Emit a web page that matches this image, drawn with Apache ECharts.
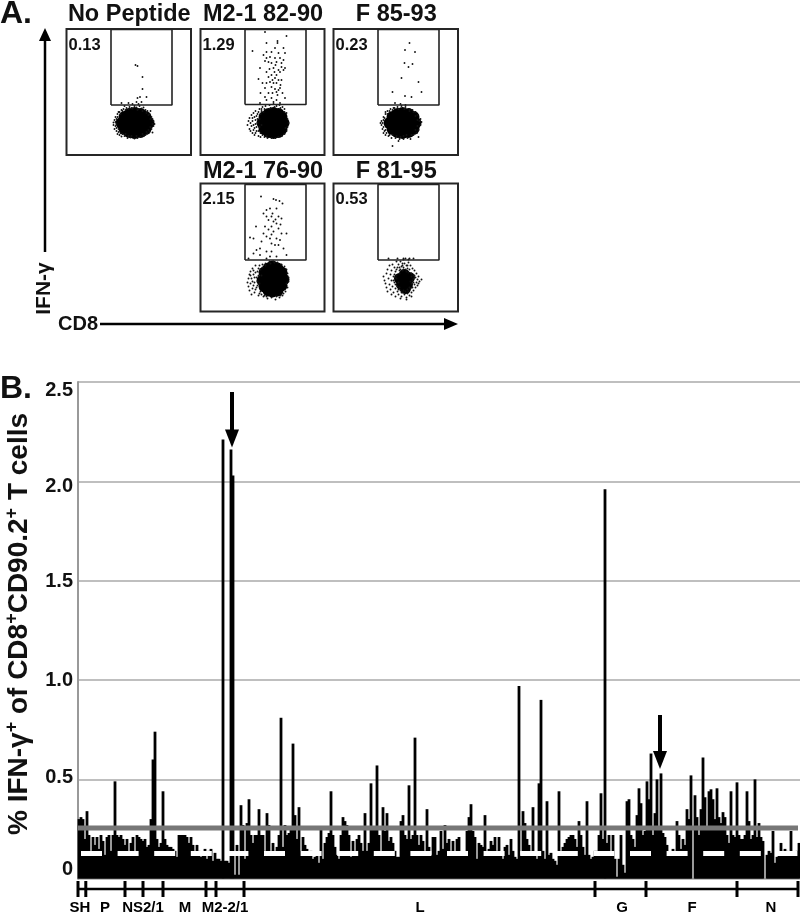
<!DOCTYPE html>
<html>
<head>
<meta charset="utf-8" />
<title>IFN-y peptide scan</title>
<script src="https://cdn.jsdelivr.net/npm/echarts@6/dist/echarts.min.js"></script>
<style>
html,body{margin:0;padding:0;background:#fff;}
#chart{width:800px;height:913px;}
</style>
</head>
<body>
<div id="chart"></div>
<script type="text/javascript">
	// panel B, % IFN-y+ per peptide, read left to right off the picture
	var scanValues = [
		.30,.31,.30,.20,.34,.22,.14,.21,.17,.21,
		.15,.22,.19,.12,.21,.22,.14,.22,.49,.22,
		.21,.22,.20,.17,.20,.13,.18,.21,.13,.22,
		.21,.20,.19,.20,.16,.17,.30,.60,.74,.20,
		.16,.18,.44,.20,.17,.16,.16,.15,.14,.11,
		.22,.22,.22,.22,.21,.18,.21,.17,.14,.17,
		.14,.11,.13,.15,.10,.14,.15,.09,.13,.10,
		.10,.09,2.21,.09,.09,.08,2.16,2.03,.02,.17,
		.02,.37,.27,.10,.28,.40,.22,.18,.22,.22,
		.35,.22,.22,.14,.33,.27,.14,.18,.14,.16,
		.22,.81,.16,.27,.22,.23,.25,.68,.32,.20,
		.36,.14,.21,.17,.15,.13,.14,.10,.11,.12,
		.08,.26,.10,.18,.21,.23,.44,.22,.16,.12,
		.10,.22,.31,.29,.27,.22,.11,.19,.14,.20,
		.22,.18,.14,.33,.14,.18,.48,.26,.25,.57,
		.22,.12,.36,.24,.33,.19,.21,.18,.14,.11,
		.11,.29,.32,.22,.20,.47,.20,.22,.71,.22,
		.17,.22,.19,.14,.35,.16,.12,.21,.21,.12,
		.14,.24,.15,.27,.18,.20,.14,.19,.12,.20,
		.21,.12,.13,.12,.24,.31,.375,.24,.21,.10,
		.18,.17,.16,.32,.14,.15,.19,.17,.21,.14,
		.21,.12,.10,.16,.17,.12,.20,.14,.11,.10,
		.97,.12,.34,.28,.20,.17,.14,.36,.12,.10,
		.48,.90,.14,.10,.39,.12,.13,.10,.09,.07,
		.44,.14,.16,.18,.20,.21,.22,.22,.20,.16,
		.29,.22,.16,.12,.39,.12,.10,.11,.14,.14,
		.22,.43,.20,1.96,.18,.22,.12,.22,.10,.01,
		.10,.22,.07,.03,.39,.40,.22,.20,.16,.32,
		.455,.38,.22,.24,.49,.40,.63,.22,.33,.50,
		.25,.53,.23,.21,.17,.13,.13,.15,.14,.29,
		.22,.15,.20,.17,.35,.30,.52,.00,.42,.31,
		.22,.35,.61,.41,.25,.44,.45,.40,.30,.455,
		.31,.28,.335,.31,.22,.18,.44,.22,.21,.485,
		.22,.20,.20,.22,.44,.29,.20,.22,.50,.21,
		.28,.21,.19,.00,.12,.14,.13,.24,.08,.11,
		.13,.18,.14,.15,.14,.13,.24,.12,.13,.14,
		.18
	];
	var tickLabels = ['2.5','2.0','1.5','1.0','0.5','0'];
	var tickLabelAt = [2.455,1.972,1.494,1.0,.507,.044];//the printed labels sit off their gridlines
	var threshold = .255;
	var dashLevel = .127;
	var proteinEdges = [0,3.9,23.5,32.5,42.5,64,69,83,258.5,284,329.5,360];
	var proteinNames = ['SH','P','NS2/1','M','M2-2/1','L','G','F','N'];
	var proteinNameAt = [1,13.5,32.5,53.5,73.5,171,272,307,346.5];
	var arrowsAt = [[77,2.45,2.216],[291,.824,.598]];

	// panel A, dots in each gate and blob, in units of the panel box
	var noPepCore = [[55,32],[58,26],[58,38],[63,23],[63,41],[68,22],[68,42],[74,23],[74,41],[79,26],[79,38],[82,32],[68,32],[60,32],[76,32],[68,27],[68,37],[62,28],[74,36],[62,36],[74,28]];
	var noPepDots = [[69,90],[71,89],[76,78],[76,66],[73.5,58],[71,57],[80,58],[70,53],[75,53],[55,52],[62,52],[66,51],[72,51],
		[47,30],[48,35],[48,26],[49,38],[50,24],[51,41],[51,21],[53,43],[53,20],[55,45],[55,18.5],[57,46],[58,19],[60,47],[61,17],[63,48],[64,17.5],[66,46.5],[68,49],[68,16.5],[70,47.5],[71,17],[73,49],[74,18],[75,46.5],[77,47.5],[77,19],[79,45],[79,20],[81,44],[81,21.5],[83,41],[83,23],[85,38],[85,26],[87,34],[87,29],[88,31],[86,22.5],[47,32.5],[49,29],[50,36],[52,26],[84,44],[58,49],[72,46],
		[49,33],[50,27],[50,31],[51,38],[52,23],[52,43],[54,22],[54,41],[56,21],[56,44],[59,21],[59,45],[62,19],[62,46],[65,19],[65,47],[70,19],[71,45],[76,21],[76,44],[80,23],[80,42],[82,25],[82,40],[84,28],[84,36],[86,31],[86,36]];
	var m282Core = [[62,32],[64,26],[64,38],[68,23],[68,41],[73,22],[73,42],[78,23],[78,41],[81,26],[81,38],[83,32],[72,32],[66,32],[78,32],[72,27],[72,37],[68,28],[76,36],[68,36],[76,28]];
	var m282Dots = [[64.5,123],[86,119],[77,114],[77,112],[66,112],[74.5,107],[83,107],[52,104],[66,103],[71,103],[63,100],[78,102],[84.5,102],[69.5,98],[74.5,97],[79.5,97],[64.5,94],[76,93],[71,92],[68,93],[59.5,87],[73,87],[81,92],[83,85],[78,85],[84.5,87],[79.5,83],[66,83],[58,76],[71,80],[76,80],[74.5,77],[78,75],[69.5,73],[73,72],[76,72],[66,72],[81,75],[64.5,67],[79.5,67],[74.5,66],[78,65],[71,68],[68,62],[76,63],[64.5,58],[71,57],[84.5,57],[76,55],[66,55],[73,53],[79.5,52],[59.5,52],[81,88],[75,90],[69,86],[83,95],[72,75],[80,70],[62,72],[68,78],[74,83],[77,60],[82,62],[60,62],[72,62],[66,97],
		[47,30],[48,34],[49,26],[49,37],[50,24],[51,40],[51,29],[52,22],[52,34],[53,42],[54,27],[54,38],[54,20],[55,31],[55,44],[56,24],[57,36],[57,41],[58,19],[59,28],[59,46],[60,18],[61,44],[62,20],[62,48],[64,18],[65,49],[67,17],[69,50],[71,17],[73,51],[75,17],[76,49],[78,18],[79,50],[81,19],[82,48],[84,21],[84,46],[86,24],[86,42],[87,28],[87,36],[88,32],
		[50,32],[52,37],[53,25],[53,30],[55,35],[55,22],[56,28],[56,39],[57,32],[58,24],[58,43],[59,36],[60,22],[60,41],[61,30],[61,46],[63,43],[64,46],[66,19],[70,47],[74,48],[80,47],[84,43],[85,27]];
	var f8593Core = [[56,32],[59,26],[59,38],[64,23],[64,41],[69,22],[69,42],[75,23],[75,41],[80,26],[80,38],[82,32],[69,32],[62,32],[77,32],[69,27],[69,37],[63,28],[75,36],[63,36],[75,28]];
	var f8593Dots = [[76,112],[71.5,105],[81.5,103],[71,92],[79,91],[75,88],[68,77],[85,73],[59,63],[88,63],[71.5,59],[78,58],[61.5,52],[59,9],[65,14],[67,51],[72,50],
		[48,30],[48,34],[49,26],[50,38],[51,24],[52,41],[52,20],[54,44],[55,19],[57,46],[58,17],[60,47],[62,17],[64,48],[66,16],[68,49],[70,16],[72,48],[74,17],[76,46],[77,16],[79,45],[80,20],[82,43],[83,22],[84,40],[85,25],[87,36],[87,30],[88,33],[85,18],[50,22],[47,32],
		[49,32],[50,28],[50,35],[51,37],[52,25],[52,43],[53,22],[54,41],[56,20],[56,44],[59,20],[59,45],[61,47],[63,19],[65,46],[67,18],[70,19],[71,46],[73,20],[76,44],[78,20],[80,43],[82,25],[82,39],[84,29],[84,35],[86,34]];
	var m276Core = [[62,31],[64,25],[64,39],[68,21],[68,43],[72,20],[72,45],[77,21],[77,43],[81,26],[81,39],[83,32],[72,33],[66,33],[78,33],[72,26],[72,40],[67,27],[77,38],[67,38],[77,27]];
	var m276Dots = [[60.5,115],[73,112.5],[75.5,111.5],[79,110.5],[82,108],[69.5,103],[66,101.5],[76,103],[63,98],[66,95],[71,95],[78,95],[81,93],[68,91.5],[73,90],[76,88],[55.5,85],[64.5,85],[71,85],[78,83],[73,80],[81,78],[86,78],[49.5,74],[63,78],[69.5,73],[76,73],[79.5,71.5],[53,73],[61,70],[71,68],[74.5,66.5],[78,66.5],[59.5,63],[56,61.5],[66,60],[71,60],[83,63],[53,58],[69.5,55],[76,55],[86,56.5],[66,53],[59.5,56.5],[48,53],[72,98],[68,82],[75,92],[80,87],[66,75],[71,77],
		[47,29],[48,33],[48,25],[49,37],[49,21],[50,40],[50,28],[51,17],[51,33],[52,23],[52,43],[53,37],[54,19],[54,29],[55,46],[56,24],[56,34],[57,40],[58,16],[59,28],[59,46],[60,20],[61,36],[62,47],[63,15],[65,48],[67,13],[69,50],[71,14],[73,50],[75,12],[77,49],[79,14],[81,47],[82,16],[84,45],[85,20],[86,42],[87,24],[87,38],[88,30],[88,34],
		[50,36],[52,30],[53,26],[53,41],[54,34],[55,22],[55,39],[57,30],[57,26],[58,36],[58,43],[59,18],[60,42],[61,17],[62,44],[64,16],[65,46],[66,15],[70,48],[74,49],[76,15],[80,16],[83,18],[86,28]];
	var f8195Core = [[71,31],[68,27],[74,27],[66,33],[76,34],[71,37],[72,23]];
	var f8195Dots = [[52,28],[50,35],[51,31],[53,24],[53,38],[54,42],[54,20],[55,33],[56,27],[56,46],[57,37],[57,22],[58,41],[58,31],[58,17],[59,25],[59,47],[60,35],[60,19],[61,44],[61,29],[62,40],[62,23],[62,15],[63,50],[63,36],[64,20],[64,44],[65,47],[65,17],[66,41],[66,38],[67,50],[67,21],[68,45],[68,15],[69,48],[69,19],[70,52],[70,44],[71,17],[71,48],[72,53],[72,20],[73,46],[73,14],[74,43],[74,18],[75,49],[75,52],[75,20],[76,42],[76,16],[77,46],[77,23],[78,38],[78,19],[79,43],[79,24],[80,36],[80,21],[81,41],[81,27],[82,34],[82,24],[83,38],[83,29],[84,32],[84,26],[85,35],[85,28],[86,30],[88,32],[55,53],[64,53],[70,53],[76,53],[80,53],[67,13],[73,12],[78,15],
		[60,31],[61,37],[62,27],[63,33],[63,42],[64,25],[65,29],[65,22],[66,44],[67,42],[68,19],[69,41],[70,42],[70,21],[72,42],[73,40],[74,22],[75,39],[76,24],[77,30],[78,28],[78,35],[79,31],[80,29],[80,33],[81,36],[69,46],[74,46],[66,24],[62,34]];
	var panelNames = ['No Peptide','M2-1 82-90','F 85-93','M2-1 76-90','F 81-95'];
	var panelPercents = ['0.13','1.29','0.23','2.15','0.53'];
	var panelCores = [noPepCore,m282Core,f8593Core,m276Core,f8195Core];
	var panelDots = [noPepDots,m282Dots,f8593Dots,m276Dots,f8195Dots];

	var FONT = '"Liberation Sans",Arial,sans-serif';
	// left, top, width, height of each box, then gate low and high in box units, blob core size
	var boxes = [
		[66.5,29,124.5,126,50,125.5,12],
		[200.5,29,124,126,50.5,125.5,12],
		[333.5,29,124.5,126,50,125.5,12],
		[200.5,183.5,124,128,51.5,127,12],
		[333.5,183.5,124.5,128,51.5,127,11]
	];
	var gateX = [44.5,105.5];

	var grids = [], xAxes = [], yAxes = [], series = [], titles = [];
	boxes.forEach(function(b,i){
		grids.push({left:b[0],top:b[1],width:b[2],height:b[3],show:true,borderColor:'#262626',borderWidth:2,backgroundColor:'transparent'});
		xAxes.push({type:'value',gridIndex:i,min:0,max:b[2],show:false});
		yAxes.push({type:'value',gridIndex:i,min:0,max:b[3],show:false});
		series.push({type:'scatter',xAxisIndex:i,yAxisIndex:i,symbolSize:b[6],silent:true,itemStyle:{color:'#000',opacity:1},data:panelCores[i],animation:false});
		series.push({type:'scatter',xAxisIndex:i,yAxisIndex:i,symbolSize:1.9,silent:true,itemStyle:{color:'#111',opacity:1},data:panelDots[i],animation:false});
		series.push({type:'line',xAxisIndex:i,yAxisIndex:i,symbol:'none',silent:true,clip:false,animation:false,lineStyle:{color:'#222',width:1.6},
			data:[[gateX[0],b[4]],[gateX[1],b[4]],[gateX[1],b[5]],[gateX[0],b[5]],[gateX[0],b[4]]]});
		titles.push({text:panelNames[i],left:b[0]+b[2]/2-4.5,top:b[1]-(b[1]<100?31:28.5),textAlign:'center',textStyle:{fontFamily:FONT,fontWeight:'bold',fontSize:23.5,color:'#111'}});
		titles.push({text:panelPercents[i],left:b[0]-3,top:b[1]+2.5,textStyle:{fontFamily:FONT,fontWeight:'bold',fontSize:16.5,color:'#111'}});
	});

	// panel B
	var SCAN = 5, EDGE = 6;
	grids.push({left:78,top:382,width:722,height:496.7});
	xAxes.push({type:'value',gridIndex:SCAN,min:0,max:361,show:false});
	yAxes.push({type:'value',gridIndex:SCAN,min:0,max:2.5,interval:.5,
		axisLine:{show:true,onZero:false,lineStyle:{color:'#999',width:2}},
		axisTick:{show:false},
		splitLine:{show:true,lineStyle:{color:'#aaa',width:1.5}},
		axisLabel:{margin:5,customValues:tickLabelAt,fontFamily:FONT,fontWeight:'bold',fontSize:20,color:'#111',
			formatter:function(v,i){return tickLabels[tickLabelAt.indexOf(v)];}}
	});
	series.push({type:'bar',xAxisIndex:SCAN,yAxisIndex:SCAN,barWidth:2.8,silent:true,animation:false,itemStyle:{color:'#000'},
		data:scanValues.map(function(v,i){return [i+.5,v];})});
	series.push({type:'line',xAxisIndex:SCAN,yAxisIndex:SCAN,symbol:'none',silent:true,animation:false,z:4,
		lineStyle:{color:'#fff',width:5,type:[21,15.6],cap:'butt'},data:[[1.5,dashLevel],[361,dashLevel]]});
	series.push({type:'line',xAxisIndex:SCAN,yAxisIndex:SCAN,symbol:'none',silent:true,animation:false,z:5,
		lineStyle:{color:'#777',width:5},data:[[0,threshold],[360,threshold]]});
	arrowsAt.forEach(function(a){
		series.push({type:'line',xAxisIndex:SCAN,yAxisIndex:SCAN,symbol:'none',silent:true,animation:false,z:6,
			lineStyle:{color:'#000',width:4,cap:'butt'},data:[[a[0],a[1]],[a[0],a[2]]]});
		series.push({type:'scatter',xAxisIndex:SCAN,yAxisIndex:SCAN,symbol:'triangle',symbolRotate:180,symbolSize:[14,18],silent:true,animation:false,z:6,
			itemStyle:{color:'#000',opacity:1},data:[[a[0],a[2]]]});
	});

	// protein ruler under panel B
	grids.push({left:78,top:881,width:722,height:32});
	xAxes.push({type:'value',gridIndex:EDGE,min:0,max:361,show:false});
	yAxes.push({type:'value',gridIndex:EDGE,min:0,max:32,show:false});
	series.push({type:'line',xAxisIndex:EDGE,yAxisIndex:EDGE,symbol:'none',silent:true,animation:false,
		lineStyle:{color:'#000',width:2.5},data:[[0,24],[360,24]]});
	series.push({type:'scatter',xAxisIndex:EDGE,yAxisIndex:EDGE,symbol:'rect',symbolSize:[3,16],silent:true,animation:false,
		itemStyle:{color:'#000',opacity:1},data:proteinEdges.map(function(x){return [x,24];})});
	series.push({type:'scatter',xAxisIndex:EDGE,yAxisIndex:EDGE,symbolSize:1,silent:true,animation:false,
		itemStyle:{color:'transparent',opacity:1},
		label:{show:true,position:'inside',formatter:'{b}',fontFamily:FONT,fontWeight:'bold',fontSize:15,color:'#000',opacity:1,textBorderWidth:0},
		data:proteinNames.map(function(n,i){return {name:n,value:[proteinNameAt[i],5.5]};})});

	titles.push({text:'A.',left:-5,top:-7,textStyle:{fontFamily:FONT,fontWeight:'bold',fontSize:32,color:'#111'}});
	titles.push({text:'B.',left:-5,top:368,textStyle:{fontFamily:FONT,fontWeight:'bold',fontSize:32,color:'#111'}});

	var chart = echarts.init(document.getElementById('chart'),null,{renderer:'canvas'});
	chart.setOption({
		animation:false,
		backgroundColor:'#fff',
		title:titles,
		grid:grids,
		xAxis:xAxes,
		yAxis:yAxes,
		series:series,
		graphic:[
			{type:'line',shape:{x1:45,y1:252,x2:45,y2:40},style:{stroke:'#000',lineWidth:2.5}},
			{type:'polygon',shape:{points:[[45,28],[39,41],[51,41]]},style:{fill:'#000'}},
			{type:'line',shape:{x1:100,y1:324,x2:446,y2:324},style:{stroke:'#000',lineWidth:2.5}},
			{type:'polygon',shape:{points:[[458,324],[444,318],[444,330]]},style:{fill:'#000'}},
			{type:'text',x:44,y:288.5,rotation:Math.PI/2,style:{text:'IFN-γ',align:'center',verticalAlign:'middle',font:'bold 21px '+FONT,fill:'#111'}},
			{type:'text',x:58,y:324,style:{text:'CD8',align:'left',verticalAlign:'middle',font:'bold 20px '+FONT,fill:'#111'}},
			{type:'text',x:19,y:624,rotation:Math.PI/2,style:{
				text:'{b|% IFN-γ}{s|+}{b| of CD8}{s|+}{b|CD90.2}{s|+}{b| T cells}',align:'center',verticalAlign:'middle',
				rich:{
					b:{font:'bold 28px '+FONT,fill:'#111',lineHeight:32},
					s:{font:'bold 18px '+FONT,fill:'#111',lineHeight:32,verticalAlign:'top'}
				}
			}}
		]
	});
</script>
</body>
</html>
